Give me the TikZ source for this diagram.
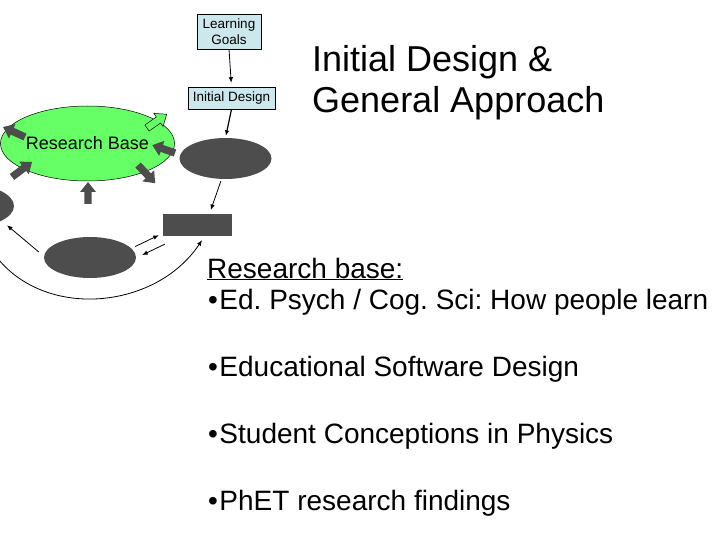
\documentclass[tikz,border=0pt]{standalone}
\usepackage{fontspec}
\setmainfont{Liberation Sans}
\usetikzlibrary{shapes.geometric,arrows.meta}
\definecolor{boxblue}{RGB}{204,232,236}
\definecolor{rbgreen}{RGB}{102,255,102}
\definecolor{darkfill}{RGB}{77,77,77}
\frenchspacing
\tikzset{
 smallbox/.style={draw=black, line width=0.6pt, fill=boxblue, inner sep=0pt, font=\fontsize{13.5}{15.5}\selectfont, align=center},
 darkell/.style={ellipse, fill=darkfill, draw=none, minimum width=92pt, minimum height=41pt, inner sep=0pt},
 thinarrow/.style={draw=black, line width=0.8pt, -{Latex[length=5.5pt,width=4.5pt]}},
 pics/barrow/.style={code={\path[pic actions] (0pt,-3.7pt) -- (#1-10pt,-3.7pt) -- (#1-10pt,-8pt) -- (#1,0pt) -- (#1-10pt,8pt) -- (#1-10pt,3.7pt) -- (0pt,3.7pt) -- cycle;}},
 bodytext/.style={anchor=base west, inner sep=0pt, font=\fontsize{28}{33}\selectfont},
 titletext/.style={anchor=base west, inner sep=0pt, font=\fontsize{36}{42}\selectfont},
}
\begin{document}
\begin{tikzpicture}[x=1pt,y=-1pt]
\useasboundingbox (0,0) rectangle (720,540);
\fill[white] (0,0) rectangle (720,540);
\clip (0,0) rectangle (720,540);

% nodes
\node[smallbox, minimum width=64pt, minimum height=35pt] (LG) at (229,31.5) {Learning\\Goals};
\node[smallbox, minimum width=87pt, minimum height=22pt] (ID) at (231.5,98) {Initial Design};
\node[ellipse, fill=rbgreen, draw=black, line width=0.5pt, minimum width=129pt, minimum height=75pt, inner sep=0pt, font=\fontsize{18}{20}\selectfont] (RB) at (87.5,143.5) {Research Base};
\node[darkell] (DE) at (225.5,158.5) {};
\node[rectangle, fill=darkfill, minimum width=69pt, minimum height=22pt, inner sep=0pt] (DR) at (197.5,225) {};
\node[darkell] (BE) at (90,257.5) {};
\node[darkell, minimum width=88pt, minimum height=42pt] (LE) at (-30,206) {};

% block arrows
\pic[fill=darkfill, rotate=155.6] at (25,137) {barrow=24pt};
\pic[fill=darkfill, rotate=36.9] at (12,177) {barrow=25pt};
\pic[fill=darkfill, rotate=90] at (88,204) {barrow=22pt};
\pic[fill=darkfill, rotate=-46.6] at (138,165) {barrow=25pt};
\pic[fill=darkfill, rotate=160.8] at (175,153) {barrow=24pt};
\pic[fill=rbgreen, draw=black, line width=0.5pt, rotate=35] at (147,128) {barrow=24pt};

% thin connectors
\draw[thinarrow, shorten >=4pt] (LG.south) -- (ID.north);
\draw[thinarrow, line width=1.2pt, shorten >=2pt] (ID.south) -- (DE.north);
\draw[thinarrow, shorten <=2pt, shorten >=4pt] ([xshift=-4pt]DE.south) -- ([xshift=12pt]DR.north);
\draw[thinarrow, shorten >=7pt] ([shift={(-5pt,5.5pt)}]BE.west) -- (LE.-25);
\draw[thinarrow] ([shift={(-1pt,11pt)}]BE.east) -- ([shift={(-4pt,1pt)}]DR.south west);
\draw[thinarrow] ([shift={(2pt,-8pt)}]DR.south west) -- ([shift={(6pt,2.5pt)}]BE.east);
\draw[thinarrow] ([xshift=10pt]LE.south) .. controls (15,322) and (150,318) .. ([shift={(4.5pt,-4pt)}]DR.south);

% texts
\node[titletext] (T1) at (312,72) {Initial Design \&};
\node[titletext] (T2) at (312,113) {General Approach};
\node[bodytext] (B0) at (207,278) {\underline{Research base:}};
\node[bodytext] (B1) at (208,309) {•\kern1.5pt Ed. Psych / Cog. Sci: How people learn};
\node[bodytext] (B2) at (208,376) {•\kern1.5pt Educational Software Design};
\node[bodytext] (B3) at (208,443) {•\kern1.5pt Student Conceptions in Physics};
\node[bodytext] (B4) at (208,510) {•\kern1.5pt PhET research findings};
\end{tikzpicture}
\end{document}
